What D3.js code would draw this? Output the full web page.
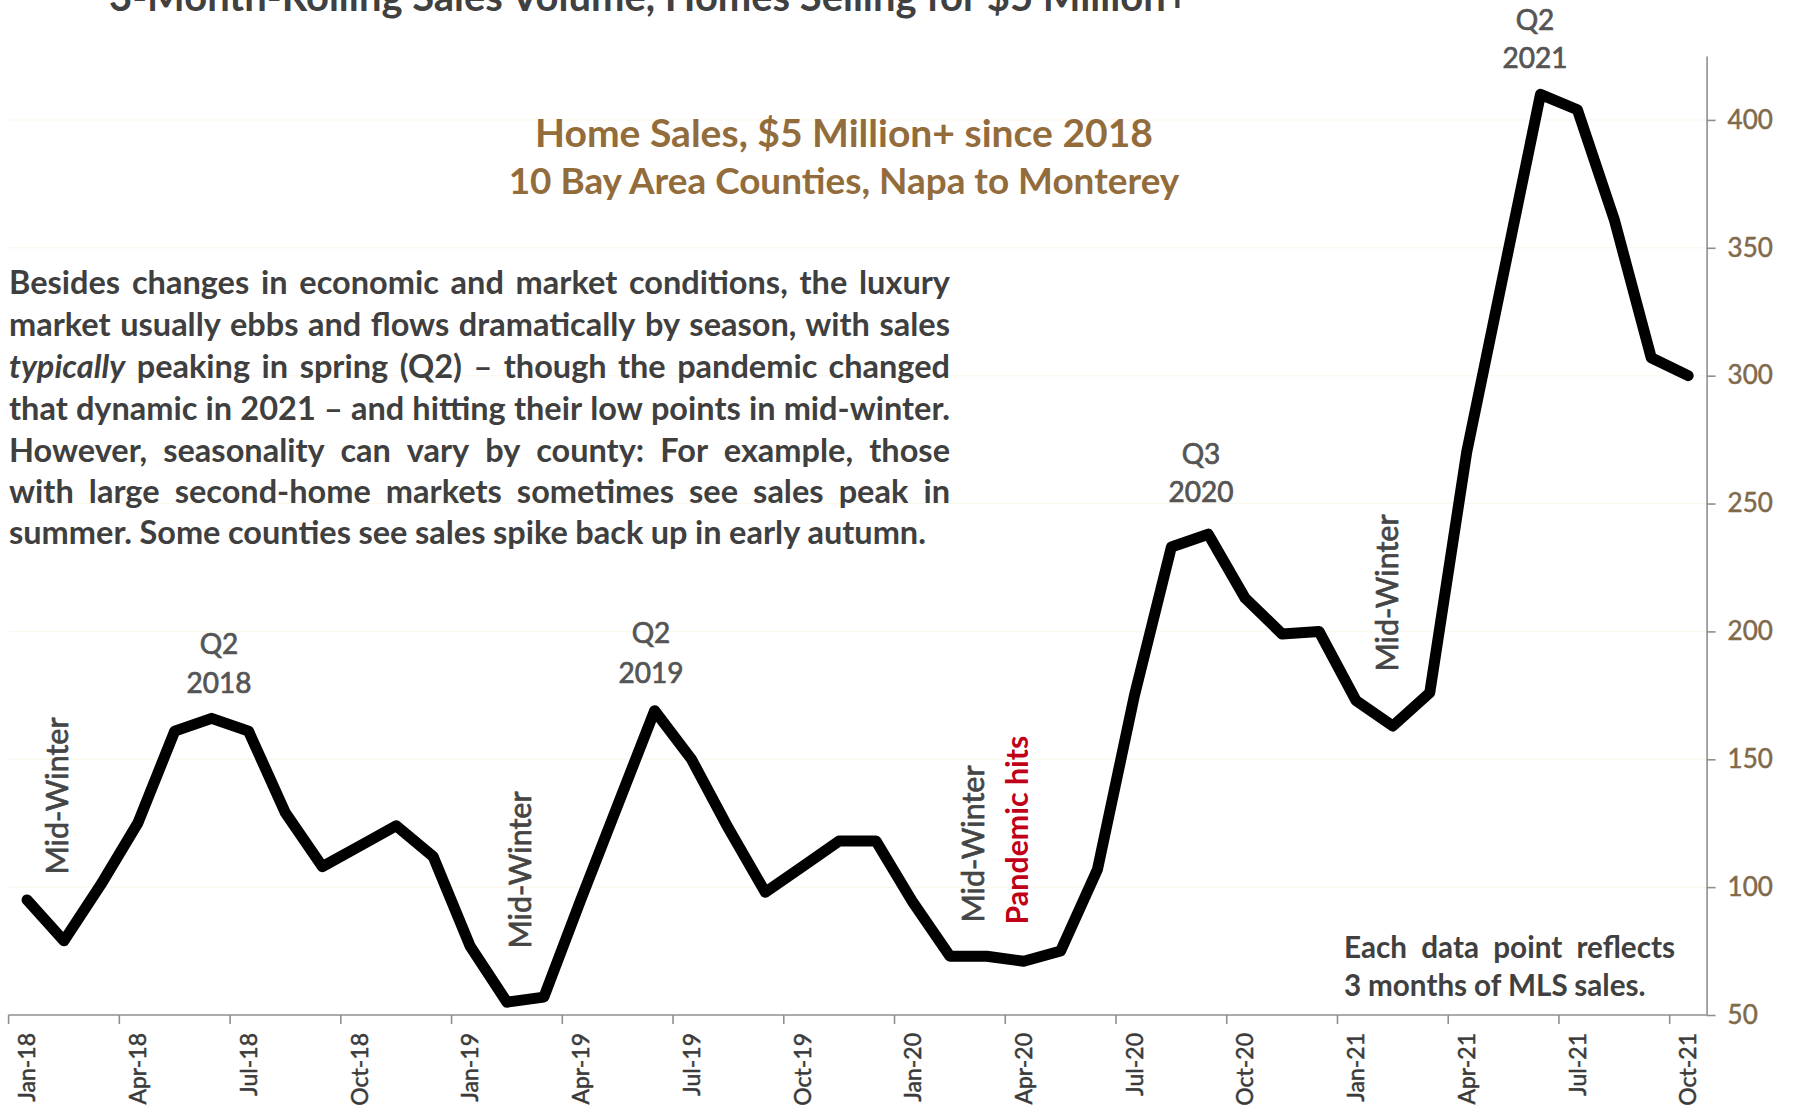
<!DOCTYPE html>
<html>
<head>
<meta charset="utf-8">
<script src="https://cdn.jsdelivr.net/npm/d3@7"></script>
<style>
  html, body { margin: 0; padding: 0; background: #ffffff; }
  svg { display: block; font-family: Lato, "Open Sans", sans-serif; }
</style>
</head>
<body>
<script>
// Monthly categories (3-month rolling window ending in each month)
const months = [
  "Jan-18","Feb-18","Mar-18","Apr-18","May-18","Jun-18","Jul-18","Aug-18","Sep-18","Oct-18","Nov-18","Dec-18",
  "Jan-19","Feb-19","Mar-19","Apr-19","May-19","Jun-19","Jul-19","Aug-19","Sep-19","Oct-19","Nov-19","Dec-19",
  "Jan-20","Feb-20","Mar-20","Apr-20","May-20","Jun-20","Jul-20","Aug-20","Sep-20","Oct-20","Nov-20","Dec-20",
  "Jan-21","Feb-21","Mar-21","Apr-21","May-21","Jun-21","Jul-21","Aug-21","Sep-21","Oct-21"
];

// Sales of $5M+ homes, 3-month rolling
const sales = [
  95, 79, 101, 125, 161, 166, 161, 129, 108, 116, 124, 112,
  77, 55, 57, 95, 132, 169, 150, 123, 98, 108, 118, 118,
  94, 73, 73, 71, 75, 107, 175, 233, 238, 213, 199, 200,
  173, 163, 176, 270, 340, 410, 404, 361, 307, 300
];

// Quarter labels shown on the month axis
const xTickLabels = [
  "Jan-18","Apr-18","Jul-18","Oct-18","Jan-19","Apr-19","Jul-19","Oct-19",
  "Jan-20","Apr-20","Jul-20","Oct-20","Jan-21","Apr-21","Jul-21","Oct-21"
];

const yTicks = [50, 100, 150, 200, 250, 300, 350, 400];

const paragraph = [
  [{t: "Besides changes in economic and market conditions, the luxury"}],
  [{t: "market usually ebbs and flows dramatically by season, with sales"}],
  [{t: "typically", italic: true}, {t: "peaking in spring (Q2) \u2013 though the pandemic changed"}],
  [{t: "that dynamic in 2021 \u2013 and hitting their low points in mid-winter."}],
  [{t: "However, seasonality can vary by county: For example, those"}],
  [{t: "with large second-home markets sometimes see sales peak in"}],
  [{t: "summer. Some counties see sales spike back up in early autumn."}]
];

const W = 1793, H = 1115;
const svg = d3.select("body").append("svg")
  .attr("width", W).attr("height", H)
  .attr("viewBox", `0 0 ${W} ${H}`);

svg.append("rect").attr("width", W).attr("height", H).attr("fill", "#ffffff");

const plotLeft = 8.6, plotRight = 1706.6, plotBottom = 1015, plotTop = 56;

const x = d3.scaleBand().domain(months).range([plotLeft, plotRight]).padding(0);
const y = d3.scaleLinear().domain([50, 425]).range([plotBottom, plotTop]);
const cx = m => x(m) + x.bandwidth() / 2;

// Very faint horizontal gridlines
svg.append("g")
  .selectAll("line")
  .data(yTicks.filter(v => v > 50))
  .join("line")
  .attr("x1", plotLeft).attr("x2", plotRight)
  .attr("y1", d => y(d)).attr("y2", d => y(d))
  .attr("stroke", "#fbf9ef").attr("stroke-width", 1.5);

// Right-hand value axis
const yAxis = svg.append("g")
  .attr("transform", `translate(${plotRight},0)`)
  .call(d3.axisRight(y).tickValues(yTicks).tickSize(9).tickSizeOuter(0).tickPadding(12));
yAxis.select(".domain").attr("stroke", "#8f8f8f").attr("stroke-width", 1.6);
yAxis.selectAll(".tick line").attr("stroke", "#8f8f8f").attr("stroke-width", 1.6);
yAxis.selectAll(".tick text")
  .attr("font-family", "Lato, sans-serif")
  .attr("font-size", 26)
  .attr("fill", "#806a4a")
  .attr("stroke", "#806a4a").attr("stroke-width", 0.5);

// Month axis: baseline, quarter tick marks, rotated labels
const xAxis = svg.append("g");
xAxis.append("line")
  .attr("x1", plotLeft).attr("x2", plotRight)
  .attr("y1", plotBottom).attr("y2", plotBottom)
  .attr("stroke", "#8f8f8f").attr("stroke-width", 1.6);
xAxis.selectAll("line.tick")
  .data(xTickLabels)
  .join("line")
  .attr("class", "tick")
  .attr("x1", d => x(d)).attr("x2", d => x(d))
  .attr("y1", plotBottom).attr("y2", plotBottom + 9)
  .attr("stroke", "#8f8f8f").attr("stroke-width", 1.6);
xAxis.selectAll("text")
  .data(xTickLabels)
  .join("text")
  .attr("transform", d => `translate(${cx(d)},${plotBottom + 18}) rotate(-90)`)
  .attr("text-anchor", "end")
  .attr("dy", "0.36em")
  .attr("font-size", 23)
  .attr("fill", "#3a3a3a")
  .attr("stroke", "#3a3a3a").attr("stroke-width", 0.5)
  .text(d => d);

// Helper: scale font size so the text spans a given width
function fitWidth(sel, w) {
  const n = sel.node().getComputedTextLength();
  const fs = parseFloat(sel.attr("font-size"));
  sel.attr("font-size", (fs * w / n).toFixed(2));
  return sel;
}

// Chart heading, running off the top edge
fitWidth(svg.append("text")
  .attr("x", 649).attr("y", 11)
  .attr("text-anchor", "middle")
  .attr("font-size", 36).attr("font-weight", 700)
  .attr("fill", "#404040")
  .text("3-Month-Rolling Sales Volume, Homes Selling for $5 Million+"), 1080);

// Inner titles
fitWidth(svg.append("text")
  .attr("x", 844).attr("y", 147)
  .attr("text-anchor", "middle")
  .attr("font-size", 32).attr("font-weight", 700)
  .attr("fill", "#936c3c")
  .text("Home Sales, $5 Million+ since 2018"), 618);
fitWidth(svg.append("text")
  .attr("x", 844).attr("y", 194)
  .attr("text-anchor", "middle")
  .attr("font-size", 28).attr("font-weight", 700)
  .attr("fill", "#936c3c")
  .text("10 Bay Area Counties, Napa to Monterey"), 671);

// Justified text block
function justifiedBlock(lines, left, width, baselines, lastWidth, color) {
  const g = svg.append("g").attr("fill", color).attr("font-weight", 700);
  // size the font so the last (ragged) line matches its width
  const probe = g.append("text").attr("font-size", 28)
    .text(lines[lines.length - 1].map(s => s.t).join(" "));
  const fs = 28 * lastWidth / probe.node().getComputedTextLength();
  probe.remove();
  lines.forEach((segs, li) => {
    const words = [];
    segs.forEach(s => s.t.split(" ").forEach(w => words.push({w, italic: !!s.italic})));
    const t = g.append("text").attr("y", baselines[li]).attr("font-size", fs);
    const spans = words.map(wd => t.append("tspan")
      .attr("font-style", wd.italic ? "italic" : "normal")
      .text(wd.w));
    const widths = spans.map(s => s.node().getComputedTextLength());
    const total = d3.sum(widths);
    const last = li === lines.length - 1;
    const spaceW = fs * 0.23;
    const gap = last ? spaceW : (width - total) / (words.length - 1);
    let xp = left;
    spans.forEach((s, i) => { s.attr("x", xp); xp += widths[i] + gap; });
  });
}

justifiedBlock(paragraph, 9, 941, [294, 336, 378, 420, 462, 503, 544], 921, "#3f3f3f");

justifiedBlock(
  [[{t: "Each data point reflects"}], [{t: "3 months of MLS sales."}]],
  1344, 331, [958, 996], 303, "#404040");

// Peak labels
const peaks = [
  {lines: ["Q2", "2018"], x: 219, y: [654, 693]},
  {lines: ["Q2", "2019"], x: 651, y: [643, 683]},
  {lines: ["Q3", "2020"], x: 1201, y: [464, 502]},
  {lines: ["Q2", "2021"], x: 1535, y: [30, 68]}
];
peaks.forEach(p => {
  p.lines.forEach((s, i) => {
    svg.append("text")
      .attr("x", p.x).attr("y", p.y[i])
      .attr("text-anchor", "middle")
      .attr("font-size", 28)
      .attr("fill", "#555555")
      .attr("stroke", "#555555").attr("stroke-width", 0.7)
      .text(s);
  });
});

// Vertical season labels
const vertLabels = [
  {t: "Mid-Winter", x: 57, y: 796, len: 157, color: "#454545", weight: 400},
  {t: "Mid-Winter", x: 520, y: 870, len: 157, color: "#454545", weight: 400},
  {t: "Mid-Winter", x: 973, y: 844, len: 157, color: "#454545", weight: 400},
  {t: "Mid-Winter", x: 1387, y: 593, len: 157, color: "#454545", weight: 400},
  {t: "Pandemic hits", x: 1017, y: 830, len: 189, color: "#c00018", weight: 700}
];
vertLabels.forEach(v => {
  const t = svg.append("text")
    .attr("transform", `translate(${v.x},${v.y}) rotate(-90)`)
    .attr("text-anchor", "middle")
    .attr("dy", "0.36em")
    .attr("font-size", 28)
    .attr("font-weight", v.weight)
    .attr("fill", v.color)
    .text(v.t);
  if (v.weight < 700) t.attr("stroke", v.color).attr("stroke-width", 0.7);
  fitWidth(t, v.len);
});

// The sales line
const line = d3.line()
  .x((d, i) => cx(months[i]))
  .y(d => y(d));

svg.append("path")
  .datum(sales)
  .attr("d", line)
  .attr("fill", "none")
  .attr("stroke", "#000000")
  .attr("stroke-width", 11)
  .attr("stroke-linejoin", "round")
  .attr("stroke-linecap", "round");
</script>
</body>
</html>
